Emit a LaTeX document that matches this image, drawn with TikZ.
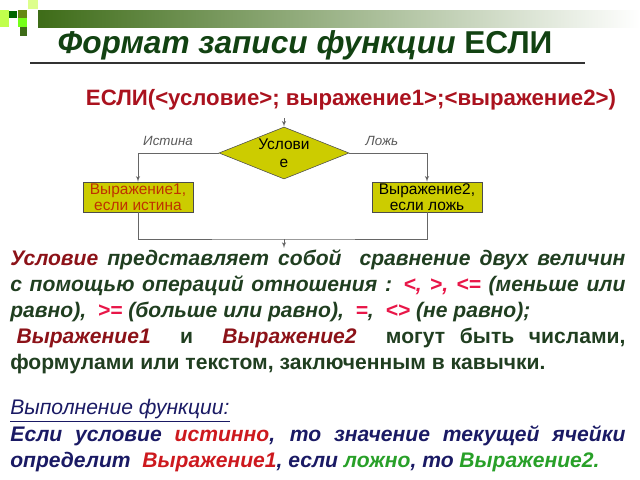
\documentclass[tikz,border=0pt]{standalone}
\usepackage{fontspec}
\setmainfont{Liberation Sans}
\usetikzlibrary{shapes.geometric, arrows}

\definecolor{titlegreen}{RGB}{18,66,18}
\definecolor{formred}{RGB}{170,18,30}
\definecolor{olivefill}{RGB}{204,204,0}
\definecolor{textgreen}{RGB}{32,62,32}
\definecolor{condred}{RGB}{140,18,24}
\definecolor{oprred}{RGB}{232,22,72}
\definecolor{navy}{RGB}{26,26,100}
\definecolor{truered}{RGB}{205,25,30}
\definecolor{falsegreen}{RGB}{40,160,40}
\definecolor{boxred}{RGB}{190,50,0}
\definecolor{bargreen}{RGB}{62,108,24}

\begin{document}
\begin{tikzpicture}[x=0.025cm, y=-0.025cm,
    decision/.style={diamond, draw=black!70, fill=olivefill, minimum width=3.25cm, minimum height=1.3cm, inner sep=0pt},
    result/.style={rectangle, draw=black!70, fill=olivefill, minimum width=2.75cm, minimum height=0.7cm, align=center, inner sep=1pt, font=\fontsize{11}{11.5}\selectfont},
    flow/.style={draw=black!60, -latex'},
    branch/.style={font=\itshape\fontsize{9.5}{10}\selectfont, text=black!65},
    para/.style={anchor=north west, text width=15.375cm, align=justify, inner sep=0pt, font=\bfseries\fontsize{15}{18.5}\selectfont}
]
    \useasboundingbox (0,0) rectangle (640,480);

    % header bar
    \shade[left color=bargreen, right color=white] (38,10) rectangle (640,27);
    \fill[green!35!yellow!70] (0,10) rectangle (9,27);
    \fill[green!40!black] (9,11) rectangle (17,18);
    \fill[bargreen!80!yellow] (18,10) rectangle (27,18);
    \fill[green!30!yellow!45] (28,0) rectangle (38,9);
    \fill[green!60!yellow!90] (18,18) rectangle (27,27);
    \fill[bargreen] (20,27) rectangle (27,36);

    % title
    \node[text=titlegreen, font=\bfseries\fontsize{22.5}{26}\selectfont] (title) at (305,45) {\itshape Формат записи функции \upshape ЕСЛИ};
    \draw[black!80, line width=1pt] (30,63) -- (585,63);

    \node[text=formred, font=\bfseries\fontsize{15.8}{18}\selectfont] (syntax) at (351,100) {ЕСЛИ(<условие>; выражение1>;<выражение2>)};

    % flowchart
    \node[decision, label={[align=center, font=\fontsize{11}{13}\selectfont]center:Услови\\е}] (cond) at (284,153) {};
    \node[result, text=boxred] (expr1) at (138,197) {Выражение1,\\если истина};
    \node[result] (expr2) at (427,197) {Выражение2,\\если ложь};
    \coordinate (entry) at (284,118);
    \coordinate (join) at (284,239);
    \coordinate (exit) at (284,248);

    \draw[flow] (entry) -- (cond.north);
    \draw[flow] (cond.west) -| (expr1.north);
    \draw[flow] (cond.east) -| (expr2.north);
    \draw[draw=black!60] (expr1.south) |- (join) -| (expr2.south);
    \draw[flow] (join) -- (exit);
    \node[branch] (yes) at (168,141) {Истина};
    \node[branch] (no) at (382,141) {Ложь};

    % explanation
    \node[para, text=textgreen] (rules) at (10,249) {\itshape
        {\color{condred}Условие} представляет собой \ сравнение двух величин\linebreak
        с помощью операций отношения : {\color{oprred}<, >, <=} (меньше или\linebreak
        равно), \ {\color{oprred}>=} (больше или равно), \ {\color{oprred}=}, \ {\color{oprred}<>} (не равно);\par
        \upshape\hspace{0.3em}{\color{condred}\itshape Выражение1} \ и \ {\color{condred}\itshape Выражение2} \ могут быть числами,\linebreak
        формулами или текстом, заключенным в кавычки.};

    \node[anchor=north west, inner sep=0pt, text=navy, font=\itshape\fontsize{15}{18.5}\selectfont] (howto) at (10,399) {\underline{Выполнение функции:}};
    \node[para, text=navy] (result) at (10,425) {\itshape
        Если условие {\color{truered}истинно}, то значение текущей ячейки\linebreak
        определит \ {\color{truered}Выражение1}, если {\color{falsegreen}ложно}, то {\color{falsegreen}Выражение2.}};
\end{tikzpicture}
\end{document}
